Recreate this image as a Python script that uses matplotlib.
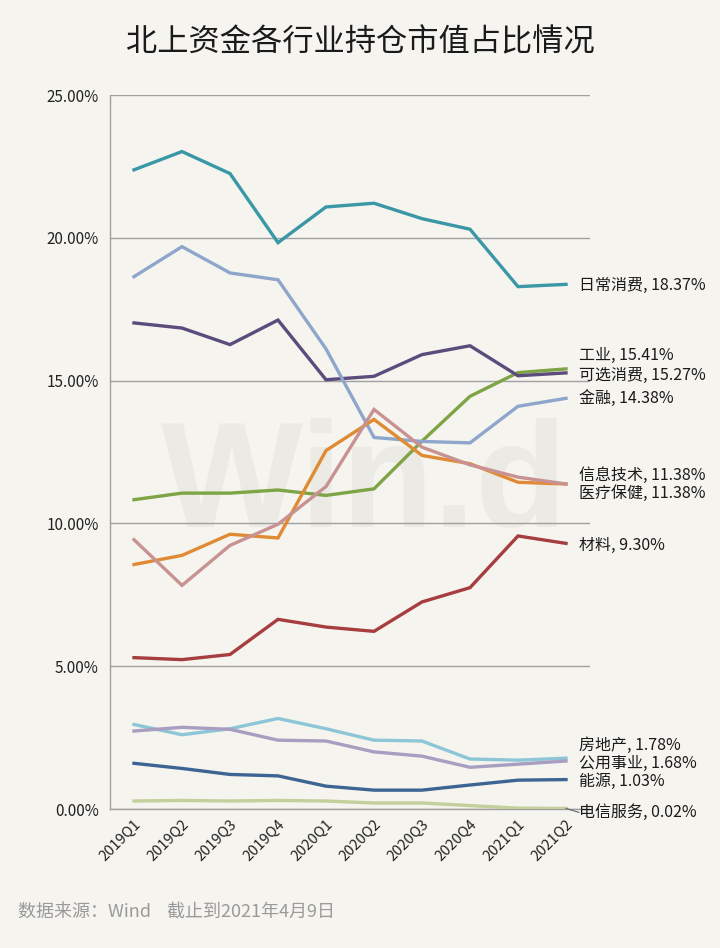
import matplotlib
matplotlib.use('Agg')
import matplotlib.pyplot as plt
import numpy as np

plt.rcParams['font.family'] = ['Noto Sans CJK SC', 'DejaVu Sans']

quarters = ['2019Q1', '2019Q2', '2019Q3', '2019Q4', '2020Q1',
            '2020Q2', '2020Q3', '2020Q4', '2021Q1', '2021Q2']

# 各行业持仓市值占比 (%)
staples = [22.38, 23.02, 22.25, 19.83, 21.08, 21.21, 20.67, 20.30, 18.29, 18.37]
industrials = [10.83, 11.06, 11.06, 11.17, 10.98, 11.21, 12.88, 14.45, 15.28, 15.41]
discretionary = [17.02, 16.84, 16.26, 17.12, 15.03, 15.15, 15.91, 16.22, 15.17, 15.27]
financials = [18.64, 19.69, 18.77, 18.53, 16.11, 13.01, 12.87, 12.82, 14.10, 14.38]
info_tech = [8.56, 8.88, 9.62, 9.49, 12.55, 13.64, 12.38, 12.09, 11.44, 11.38]
health = [9.43, 7.83, 9.23, 9.97, 11.29, 13.99, 12.67, 12.05, 11.62, 11.38]
materials = [5.30, 5.23, 5.41, 6.64, 6.37, 6.22, 7.25, 7.75, 9.56, 9.30]
real_estate = [2.96, 2.60, 2.81, 3.17, 2.81, 2.41, 2.38, 1.75, 1.71, 1.78]
utilities = [2.73, 2.86, 2.79, 2.41, 2.38, 2.00, 1.85, 1.46, 1.57, 1.68]
energy = [1.60, 1.42, 1.21, 1.16, 0.80, 0.66, 0.66, 0.84, 1.01, 1.03]
telecom = [0.28, 0.30, 0.28, 0.30, 0.28, 0.21, 0.21, 0.12, 0.03, 0.02]

names = ['日常消费', '工业', '可选消费', '金融', '信息技术', '医疗保健',
         '材料', '房地产', '公用事业', '能源', '电信服务']
series = [staples, industrials, discretionary, financials, info_tech, health,
          materials, real_estate, utilities, energy, telecom]
colors = ['#3a97a6', '#7fa446', '#5b4c7c', '#8ea6cb', '#e08b34', '#c99292',
          '#a73d3f', '#8dc6d6', '#a89ec2', '#3c6593', '#c3d09c']
# 右侧标签的纵向位置 (避免重叠)
label_y = [18.33, 15.87, 15.17, 14.36, 11.68, 11.05, 9.24, 2.24, 1.61, 0.98, -0.12]

bg = '#f5f4ef'
fig = plt.figure(figsize=(7.2, 9.48), dpi=100, facecolor=bg)
ax = fig.add_axes([110 / 720, 139 / 948, 480 / 720, 714 / 948])
ax.set_facecolor(bg)

x = np.arange(len(quarters))

# Wind 水印
ax.text(4.79, 9.87, 'Win.d', fontsize=108, fontweight='bold', color='#ebeae4',
        ha='center', va='baseline', family=['Liberation Sans', 'DejaVu Sans'],
        zorder=0, clip_on=True)

for vals, c in zip(series, colors):
    ax.plot(x, vals, color=c, linewidth=2.4, solid_joinstyle='miter', zorder=3)

for name, vals, c, ly in zip(names, series, colors, label_y):
    ax.annotate(f'{name}, {vals[-1]:.2f}%', xy=(x[-1], vals[-1]),
                xytext=(x[-1] + 0.27, ly), fontsize=11.5, color='#1a1a1a',
                va='center', ha='left', annotation_clip=False, zorder=4)
# 电信服务 引线
ax.plot([x[-1], x[-1] + 0.27], [telecom[-1], label_y[-1]], color='#666666',
        linewidth=0.8, clip_on=False, zorder=4)

ax.set_xlim(-0.5, 9.5)
ax.set_ylim(0, 25)
ax.set_yticks([0, 5, 10, 15, 20, 25])
ax.set_yticklabels([f'{v:.2f}%' for v in [0, 5, 10, 15, 20, 25]], fontsize=11, color='#222222')
ax.set_xticks(x)
ax.set_xticklabels(quarters, rotation=45, ha='right', rotation_mode='anchor',
                   fontsize=10.5, color='#222222')
ax.tick_params(axis='both', length=0, pad=8)
ax.tick_params(axis='x', pad=6)
ax.grid(axis='y', color='#a0a0a0', linewidth=1)
ax.set_axisbelow(True)
for s in ['top', 'right']:
    ax.spines[s].set_visible(False)
for s in ['left', 'bottom']:
    ax.spines[s].set_color('#a0a0a0')
    ax.spines[s].set_linewidth(1)

fig.text(0.5, 906 / 948, '北上资金各行业持仓市值占比情况', fontsize=22.5,
         ha='center', va='center', color='#1a1a1a')
fig.text(18 / 720, 36 / 948, '数据来源：Wind    截止到2021年4月9日', fontsize=13,
         ha='left', va='center', color='#9a9a9a')

fig.savefig('out.png', dpi=100, facecolor=bg)
